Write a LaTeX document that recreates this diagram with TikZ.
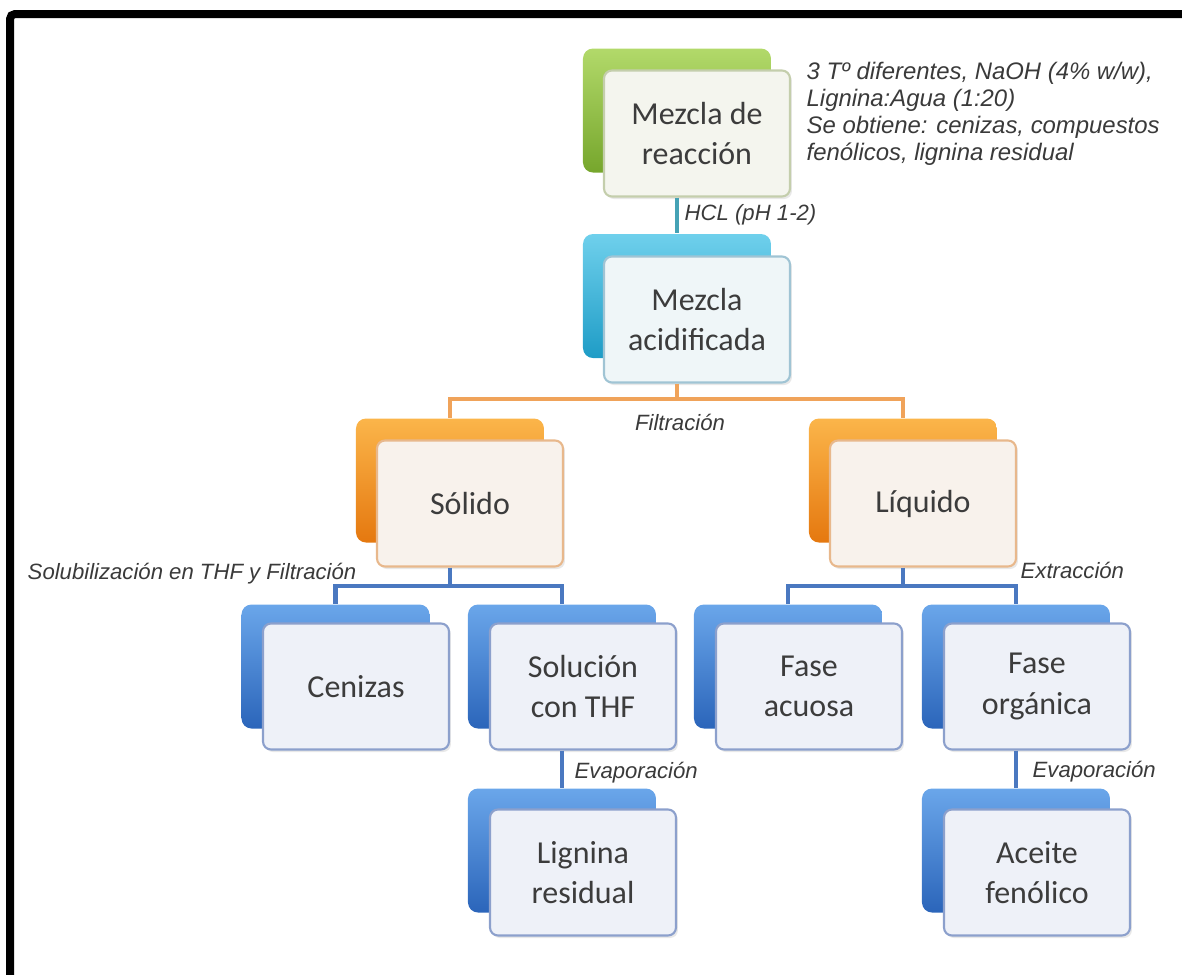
\documentclass[tikz,border=0pt]{standalone}
\usepackage{fontspec}
\setmainfont{Carlito}
\newfontfamily\arialfont{Liberation Sans}
\usepackage{tikz}
\usetikzlibrary{shadows}

\definecolor{greenTop}{HTML}{B2D96A}
\definecolor{greenBot}{HTML}{76A62C}
\definecolor{cyanTop}{HTML}{6FD0EC}
\definecolor{cyanBot}{HTML}{1E9CC6}
\definecolor{orangeTop}{HTML}{FBB54A}
\definecolor{orangeBot}{HTML}{E5780F}
\definecolor{blueTop}{HTML}{6AA6EA}
\definecolor{blueBot}{HTML}{2B65BA}
\definecolor{boxtext}{HTML}{3C3C3C}
\definecolor{lbltext}{HTML}{3A3A3A}
\definecolor{tealline}{HTML}{45A2B5}
\definecolor{orangeline}{HTML}{F0A35A}
\definecolor{blueline}{HTML}{4A78C0}

\begin{document}
\begin{tikzpicture}[
  back/.style={rectangle, rounded corners=0.1cm, minimum width=1.88cm, minimum height=1.24cm, inner sep=0pt},
  front/.style={rectangle, rounded corners=0.08cm, minimum width=1.86cm, minimum height=1.26cm, inner sep=0pt,
    align=center, line width=0.6pt, text=boxtext, font=\fontsize{9.1}{11.4}\selectfont,
    drop shadow={opacity=0.18, shadow xshift=0.02cm, shadow yshift=-0.025cm}},
  greenback/.style={back, top color=greenTop, bottom color=greenBot},
  cyanback/.style={back, top color=cyanTop, bottom color=cyanBot},
  orangeback/.style={back, top color=orangeTop, bottom color=orangeBot},
  blueback/.style={back, top color=blueTop, bottom color=blueBot},
  greenfront/.style={front, fill={rgb,255:red,244;green,245;blue,238}, draw={rgb,255:red,196;green,206;blue,172}},
  cyanfront/.style={front, fill={rgb,255:red,239;green,246;blue,248}, draw={rgb,255:red,160;green,196;blue,212}},
  orangefront/.style={front, fill={rgb,255:red,248;green,242;blue,236}, draw={rgb,255:red,232;green,184;blue,140}},
  bluefront/.style={front, fill={rgb,255:red,238;green,241;blue,248}, draw={rgb,255:red,140;green,160;blue,204}},
  lbl/.style={inner sep=0pt, text=lbltext, font=\arialfont\itshape\fontsize{6.3}{7.5}\selectfont},
  link/.style={line width=1.2pt}
]
\useasboundingbox (0,0) rectangle (11.82,-9.75);

% frame (only top and left sides show)
\draw[line width=0.08cm, rounded corners=0.05cm] (0.10,-9.90) -- (0.10,-0.14) -- (11.95,-0.14);

% back boxes
\node[greenback] (reaccionB) at (6.77,-1.105) {};
\node[cyanback] (acidB) at (6.77,-2.96) {};
\node[orangeback] (solidoB) at (4.50,-4.805) {};
\node[orangeback] (liquidoB) at (9.03,-4.805) {};
\node[blueback] (cenizasB) at (3.355,-6.665) {};
\node[blueback] (solucionB) at (5.62,-6.665) {};
\node[blueback] (acuosaB) at (7.88,-6.665) {};
\node[blueback] (organicaB) at (10.16,-6.665) {};
\node[blueback] (ligninaB) at (5.62,-8.505) {};
\node[blueback] (aceiteB) at (10.16,-8.505) {};

% front boxes
\node[greenfront] (reaccion) at (6.97,-1.335) {Mezcla de\\reacción};
\node[cyanfront] (acid) at (6.97,-3.195) {Mezcla\\acidificada};
\node[orangefront] (solido) at (4.70,-5.035) {Sólido};
\node[orangefront] (liquido) at (9.23,-5.035) {Líquido};
\node[bluefront] (cenizas) at (3.56,-6.865) {Cenizas};
\node[bluefront] (solucion) at (5.83,-6.865) {Solución\\con THF};
\node[bluefront] (acuosa) at (8.09,-6.865) {Fase\\acuosa};
\node[bluefront] (organica) at (10.37,-6.865) {Fase\\orgánica};
\node[bluefront] (lignina) at (5.83,-8.725) {Lignina\\residual};
\node[bluefront] (aceite) at (10.37,-8.725) {Aceite\\fenólico};

% connectors
\coordinate (fork1) at (6.77,-3.99);
\coordinate (fork2) at (4.50,-5.86);
\coordinate (fork3) at (9.03,-5.86);

\draw[link, tealline] (reaccion.south -| reaccionB) -- (acidB.north);
\draw[link, orangeline] (acid.south -| acidB) -- (fork1);
\draw[link, orangeline] (fork1) -| (solidoB.north);
\draw[link, orangeline] (fork1) -| (liquidoB.north);
\draw[link, blueline] (solido.south -| solidoB) -- (fork2);
\draw[link, blueline] (fork2) -| (cenizasB.north);
\draw[link, blueline] (fork2) -| (solucionB.north);
\draw[link, blueline] (liquido.south -| liquidoB) -- (fork3);
\draw[link, blueline] (fork3) -| (acuosaB.north);
\draw[link, blueline] (fork3) -| (organicaB.north);
\draw[link, blueline] (solucion.south -| solucionB) -- (ligninaB.north);
\draw[link, blueline] (organica.south -| organicaB) -- (aceiteB.north);

% labels
\node[lbl, anchor=west, font=\arialfont\itshape\fontsize{6.8}{7.7}\selectfont, align=left] (notas) at (8.06,-1.135)
  {3 Tº diferentes, NaOH (4\% w/w),\\Lignina:Agua (1:20)\\Se obtiene: cenizas, compuestos\\fenólicos, lignina residual};
\node[lbl, anchor=west] (hcl) at (6.84,-2.15) {HCL (pH 1-2)};
\node[lbl] (filtr) at (6.80,-4.22) {Filtración};
\node[lbl, anchor=east] (solub) at (3.57,-5.74) {Solubilización en THF y Filtración};
\node[lbl, anchor=west] (extr) at (10.20,-5.70) {Extracción};
\node[lbl, anchor=west] (evap1) at (5.74,-7.73) {Evaporación};
\node[lbl, anchor=west] (evap2) at (10.32,-7.72) {Evaporación};

\end{tikzpicture}
\end{document}
